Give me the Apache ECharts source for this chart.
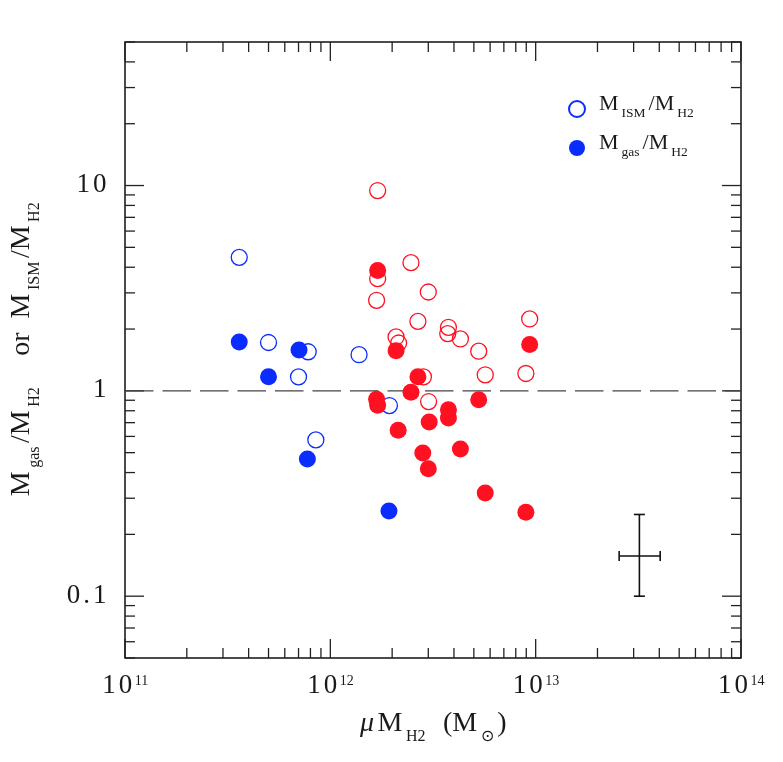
<!doctype html>
<html>
<head>
    <meta charset="utf-8">
    <title>Gas to H2 mass ratio</title>
    <script src="https://cdn.jsdelivr.net/npm/echarts@6.0.0/dist/echarts.min.js"></script>
</head>
<style>
    html, body { margin: 0; padding: 0; background: #fff; }
    #main { width: 783px; height: 762px; }
</style>
<body>
<div id="main"></div>
<script>
  // values
  var blueIsmX = [3.6e11, 5.0e11, 7.8e11, 1.38e12, 7.0e11, 8.5e11, 1.94e12];
  var blueIsmY = [4.47, 1.72, 1.55, 1.50, 1.17, 0.577, 0.848];
  var blueGasX = [3.6e11, 5.0e11, 7.04e11, 7.73e11, 1.93e12];
  var blueGasY = [1.73, 1.17, 1.58, 0.466, 0.260];
  var redIsmX = [1.70e12, 2.47e12, 1.70e12, 3.0e12, 1.68e12, 2.67e12, 3.76e12, 3.73e12, 4.30e12,
                 2.09e12, 2.15e12, 9.35e12, 5.28e12, 5.68e12, 8.96e12, 2.84e12, 3.01e12];
  var redIsmY = [9.45, 4.21, 3.52, 3.03, 2.76, 2.18, 2.04, 1.90, 1.79,
                 1.83, 1.71, 2.24, 1.56, 1.197, 1.215, 1.17, 0.887];
  var redGasX = [1.70e12, 2.09e12, 2.67e12, 2.47e12, 1.68e12, 1.70e12, 5.28e12, 3.76e12, 3.76e12,
                 3.03e12, 2.14e12, 4.30e12, 2.82e12, 3.0e12, 5.68e12, 8.96e12, 9.35e12];
  var redGasY = [3.86, 1.57, 1.17, 0.985, 0.911, 0.851, 0.904, 0.808, 0.738,
                 0.706, 0.643, 0.521, 0.498, 0.418, 0.318, 0.256, 1.68];
  // typical error bar: [x, y, xlow, xhigh, ylow, yhigh]
  var errBar = [3.2e13, 0.157, 2.55e13, 4.04e13, 0.1, 0.25];
  var refLine = [[1e11, 1], [1e14, 1]];

  var xTickValues = [1e11, 1e12, 1e13, 1e14];
  var xTickExp = ['11', '12', '13', '14'];
  var yTickValues = [0.1, 1, 10];
  var yTickLabels = ['0.1', '1', '10'];

  var F = 'Liberation Serif';
  var TXT = '#1a1a1a';
  var BLUE = '#0a2cff';
  var RED = '#ff1122';

  function zip(xs, ys) {
    return xs.map(function (x, i) { return [x, ys[i]]; });
  }
  // one rich token per character (used for the wide-set tick numbers)
  function sp(text, style) {
    return text.split('').map(function (c) { return '{' + style + '|' + c + '}'; }).join('');
  }

  // minor/major tick positions for the frame (1..9 x 10^n)
  function logTicks(lo, hi) {
    var out = [];
    for (var e = Math.floor(Math.log10(lo)); e <= Math.ceil(Math.log10(hi)); e++) {
      for (var m = 1; m <= 9; m++) {
        var v = m * Math.pow(10, e);
        if (v >= lo * 0.999 && v <= hi * 1.001) out.push({ v: v, major: m === 1 });
      }
    }
    return out;
  }
  var xTicks = logTicks(1e11, 1e14);
  var yTicks = logTicks(0.05, 50);

  var titleRich = {
    m: { fontSize: 28, fontFamily: F, color: TXT, verticalAlign: 'bottom', lineHeight: 28, padding: [0, 2.5, 7, 2.5] },
    i: { fontSize: 28, fontFamily: F, fontStyle: 'italic', color: TXT, verticalAlign: 'bottom', lineHeight: 28, padding: [0, 1, 7, 3] },
    s: { fontSize: 16, fontFamily: F, color: TXT, verticalAlign: 'bottom', lineHeight: 16, padding: [0, 1, 0, 1] }
  };
  var legendRich = {
    m: { fontSize: 22, fontFamily: F, color: TXT, verticalAlign: 'bottom', lineHeight: 22, padding: [0, 2, 5, 2] },
    s: { fontSize: 13.5, fontFamily: F, color: TXT, verticalAlign: 'bottom', lineHeight: 13, padding: [0, 1, 0, 1] }
  };
  var tickRich = {
    b: { fontSize: 27, fontFamily: F, color: TXT, verticalAlign: 'top', lineHeight: 28, padding: [0, 1.5, 0, 1.5] },
    e: { fontSize: 14, fontFamily: F, color: TXT, verticalAlign: 'top', lineHeight: 14, padding: [2, 1, 0, 1] }
  };

  var chart = echarts.init(document.getElementById('main'), null, { renderer: 'canvas' });

  var option = {
    backgroundColor: '#fff',
    animation: false,
    grid: {
      left: 125, top: 42, width: 616, height: 616,
      show: true, borderColor: '#111', borderWidth: 1.5, backgroundColor: 'transparent'
    },
    legend: {
      data: ['ISM', 'gas'],
      orient: 'vertical',
      left: 563, top: 88,
      itemWidth: 30, itemHeight: 16, itemGap: 12,
      selectedMode: false,
      formatter: function (name) {
        return '{m|M}{s|' + name + '}{m|/M}{s|H2}';
      },
      textStyle: { rich: legendRich }
    },
    xAxis: {
      type: 'log', logBase: 10, min: 1e11, max: 1e14,
      axisLine: { show: false }, axisTick: { show: false }, splitLine: { show: false },
      axisLabel: {
        margin: 14,
        formatter: function (v) {
          var i = xTickValues.findIndex(function (t) { return Math.abs(t / v - 1) < 1e-6; });
          return i < 0 ? '' : sp('10', 'b') + '{e|' + xTickExp[i] + '}';
        },
        rich: tickRich
      },
      name: '{i|\u03bc}{m|M}{s|H2}{m|  (M}{s|\u2299}{m|)}',
      nameLocation: 'middle', nameGap: 59,
      nameTextStyle: { rich: titleRich }
    },
    yAxis: {
      type: 'log', logBase: 10, min: 0.05, max: 50,
      axisLine: { show: false }, axisTick: { show: false }, splitLine: { show: false },
      axisLabel: {
        margin: 17,
        formatter: function (v) {
          var i = yTickValues.findIndex(function (t) { return Math.abs(t / v - 1) < 1e-6; });
          return i < 0 ? '' : sp(yTickLabels[i], 'b');
        },
        rich: tickRich
      },
      name: '{m|M}{s|gas}{m|/M}{s|H2}{m|    or  M}{s|ISM}{m|/M}{s|H2}',
      nameLocation: 'middle', nameGap: 82,
      nameTextStyle: { rich: titleRich }
    },
    series: [
      {
        type: 'custom', name: 'ticks', silent: true, clip: false, z: 1,
        data: [[1e12, 1]],
        renderItem: function (params, api) {
          var cs = params.coordSys;
          var L = cs.x, R = cs.x + cs.width, T = cs.y, B = cs.y + cs.height;
          var kids = [];
          function seg(x1, y1, x2, y2) {
            kids.push({ type: 'line', shape: { x1: x1, y1: y1, x2: x2, y2: y2 },
              style: { stroke: '#222', lineWidth: 1.3 } });
          }
          xTicks.forEach(function (t) {
            var px = api.coord([t.v, 1])[0];
            var len = t.major ? 19 : 10;
            seg(px, B, px, B - len);
            seg(px, T, px, T + len);
          });
          yTicks.forEach(function (t) {
            var py = api.coord([1e12, t.v])[1];
            var len = t.major ? 19 : 10;
            seg(L, py, L + len, py);
            seg(R, py, R - len, py);
          });
          return { type: 'group', children: kids };
        }
      },
      {
        type: 'line', name: 'unity', silent: true, symbol: 'none', z: 2,
        data: refLine,
        lineStyle: { color: '#444', width: 1.3, type: [28.5, 9] }
      },
      {
        type: 'custom', name: 'err', silent: true, z: 3,
        data: [errBar],
        encode: { x: [0, 2, 3], y: [1, 4, 5] },
        renderItem: function (params, api) {
          var c = api.coord([api.value(0), api.value(1)]);
          var xl = api.coord([api.value(2), api.value(1)])[0];
          var xh = api.coord([api.value(3), api.value(1)])[0];
          var yl = api.coord([api.value(0), api.value(4)])[1];
          var yh = api.coord([api.value(0), api.value(5)])[1];
          var st = { stroke: '#111', lineWidth: 1.6 };
          return {
            type: 'group',
            children: [
              { type: 'line', shape: { x1: xl, y1: c[1], x2: xh, y2: c[1] }, style: st },
              { type: 'line', shape: { x1: c[0], y1: yl, x2: c[0], y2: yh }, style: st },
              { type: 'line', shape: { x1: xl, y1: c[1] - 5, x2: xl, y2: c[1] + 5 }, style: st },
              { type: 'line', shape: { x1: xh, y1: c[1] - 5, x2: xh, y2: c[1] + 5 }, style: st },
              { type: 'line', shape: { x1: c[0] - 5.5, y1: yl, x2: c[0] + 5.5, y2: yl }, style: st },
              { type: 'line', shape: { x1: c[0] - 5.5, y1: yh, x2: c[0] + 5.5, y2: yh }, style: st }
            ]
          };
        }
      },
      {
        type: 'scatter', name: 'ISM', silent: true, z: 4,
        symbol: 'circle', symbolSize: 16,
        itemStyle: { color: 'rgba(0,0,0,0)', borderColor: BLUE, borderWidth: 1.3, opacity: 1 },
        data: zip(blueIsmX, blueIsmY)
      },
      {
        type: 'scatter', name: 'gas', silent: true, z: 5,
        symbol: 'circle', symbolSize: 17,
        itemStyle: { color: BLUE, opacity: 1 },
        data: zip(blueGasX, blueGasY)
      },
      {
        type: 'scatter', name: 'ISM (red)', silent: true, z: 4,
        symbol: 'circle', symbolSize: 16,
        itemStyle: { color: 'rgba(0,0,0,0)', borderColor: RED, borderWidth: 1.3, opacity: 1 },
        data: zip(redIsmX, redIsmY)
      },
      {
        type: 'scatter', name: 'gas (red)', silent: true, z: 5,
        symbol: 'circle', symbolSize: 17,
        itemStyle: { color: RED, opacity: 1 },
        data: zip(redGasX, redGasY)
      }
    ]
  };

  chart.setOption(option);
</script>
</body>
</html>
